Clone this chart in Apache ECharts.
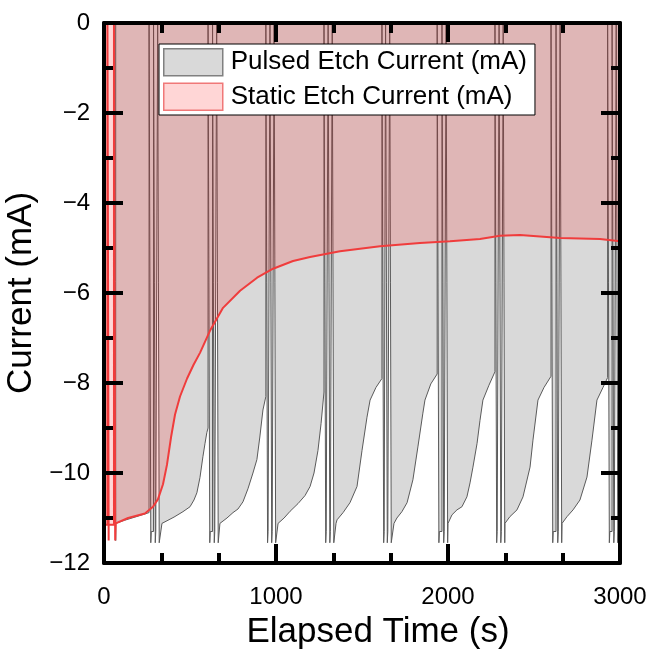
<!DOCTYPE html>
<html><head><meta charset="utf-8">
<script src="https://cdn.jsdelivr.net/npm/echarts@6/dist/echarts.min.js"></script>
<style>html,body{margin:0;padding:0;background:#fff}#c{width:654px;height:649px}</style>
</head><body><div id="c"></div>
<script>
// ---- axis settings ----
const xRange = [0, 3000];
const yRange = [-12, 0];

// ---- Static etch current (mA) vs elapsed time (s) ----
const staticTime = [0, 20, 20, 20, 27, 27, 27, 58, 58, 58, 65, 65, 68, 140, 238, 285, 314, 343, 366, 390, 413, 442, 483, 520, 558, 616, 692, 791, 890, 983, 1099, 1198, 1372, 1605, 1837, 2012, 2186, 2302, 2419, 2651, 2884, 3000];
const staticCurrent = [-11.15, -11.15, -11.15, 0, 0, -11.5, -11.15, -11.15, -11.15, 0, 0, -11.5, -11.12, -11.0, -10.9, -10.75, -10.58, -10.25, -9.82, -9.2, -8.7, -8.3, -7.9, -7.6, -7.33, -6.84, -6.33, -5.95, -5.66, -5.46, -5.29, -5.2, -5.07, -4.96, -4.89, -4.85, -4.8, -4.73, -4.71, -4.78, -4.8, -4.85];

// ---- Pulsed etch current: etch segments [time s, current mA] ----
const seg0 = [[68,-11.12],[120,-11.05],[180,-10.98],[230,-10.92],[262,-10.88]];
const seg1 = [[337,-11.12],[372,-11.05],[407,-10.98],[459,-10.86],[500,-10.75],[523,-10.6],[540,-10.44],[558,-10.1],[575,-9.64],[587,-9.35],[598,-9.1],[605,-9.0]];
const seg2 = [[674,-11.12],[715,-11.0],[750,-10.88],[779,-10.8],[808,-10.64],[837,-10.35],[866,-10.0],[889,-9.7],[906,-9.2],[924,-8.6],[941,-8.3]];
const seg3 = [[1012,-11.12],[1047,-11.0],[1082,-10.85],[1128,-10.68],[1169,-10.5],[1198,-10.3],[1221,-10.0],[1244,-9.5],[1262,-8.9],[1279,-8.2]];
const seg4 = [[1349,-11.12],[1355,-11.04],[1390,-10.88],[1430,-10.66],[1471,-10.3],[1500,-9.5],[1529,-8.76],[1547,-8.38],[1581,-8.1],[1616,-7.9]];
const seg5 = [[1686,-11.12],[1703,-11.0],[1732,-10.86],[1762,-10.66],[1796,-10.15],[1825,-9.42],[1854,-8.67],[1866,-8.38],[1900,-8.02],[1937,-7.8]];
const seg6 = [[2000,-11.12],[2023,-10.93],[2052,-10.82],[2081,-10.75],[2110,-10.53],[2128,-10.22],[2145,-9.87],[2169,-9.34],[2186,-8.83],[2203,-8.38],[2238,-8.05],[2273,-7.75]];
const seg7 = [[2331,-11.12],[2360,-10.97],[2401,-10.82],[2436,-10.53],[2477,-9.87],[2494,-9.27],[2523,-8.38],[2558,-8.1],[2599,-7.85]];
const seg8 = [[2663,-11.12],[2692,-10.97],[2727,-10.82],[2767,-10.6],[2808,-10.09],[2837,-9.27],[2866,-8.38],[2901,-8.1],[2928,-7.88]];
const seg9 = [[2992,-11.12],[3000,-11.08]];
const segments = [seg0, seg1, seg2, seg3, seg4, seg5, seg6, seg7, seg8, seg9];
// centre time of each off-window (zero-current pulses between etch segments)
const pulseCenters = [308, 651, 985, 1323, 1657, 1985, 2317, 2648, 2974];
const spikeLow = -11.55;
const restLevel = -11.3;
const startData = [[0,0],[68,0],[68,-11.5]];

// ---- build series data ----
const staticData = staticTime.map((t, i) => [t, staticCurrent[i]]);
const pulsedData = startData.slice();
for (let k = 0; k < segments.length; k++) {
  const seg = segments[k];
  seg.forEach(p => pulsedData.push(p));
  if (k < pulseCenters.length) {
    const c = pulseCenters[k];
    const E = seg[seg.length - 1][0];
    pulsedData.push([E, 0], [E + 10, 0], [E + 10, spikeLow], [E + 13, restLevel]);
    pulsedData.push([c - 20, restLevel], [c - 20, 0], [c - 10, 0], [c - 10, spikeLow], [c - 7, restLevel]);
    pulsedData.push([c + 4, restLevel], [c + 4, 0], [c + 13, 0], [c + 13, spikeLow]);
  }
}

const FONT = "'Liberation Sans', Arial, sans-serif";
const tickStyle = { color: '#000', width: 4 };
function xAx(pos, showLabel) {
  return {
    type: 'value', position: pos, min: xRange[0], max: xRange[1], interval: 1000, z: 10,
    axisLine: { show: true, onZero: false, lineStyle: { color: '#000', width: 4 } },
    axisTick: { show: true, inside: true, length: 19, lineStyle: tickStyle },
    minorTick: { show: true, splitNumber: 3, length: 10, lineStyle: tickStyle },
    splitLine: { show: false }, minorSplitLine: { show: false },
    axisLabel: { show: showLabel, color: '#000', fontSize: 24, fontFamily: FONT, margin: 22,
      formatter: v => String(v) },
    name: showLabel ? 'Elapsed Time (s)' : '', nameLocation: 'middle', nameGap: 52,
    nameTextStyle: { color: '#000', fontSize: 35, fontFamily: FONT, padding: [0, 0, 0, 32] }
  };
}
function yAx(pos, showLabel) {
  return {
    type: 'value', position: pos, min: yRange[0], max: yRange[1], interval: 2, z: 10,
    axisLine: { show: true, onZero: false, lineStyle: { color: '#000', width: 4 } },
    axisTick: { show: true, inside: true, length: 19, lineStyle: tickStyle },
    minorTick: { show: true, splitNumber: 2, length: 9, lineStyle: tickStyle },
    splitLine: { show: false }, minorSplitLine: { show: false },
    axisLabel: { show: showLabel, color: '#000', fontSize: 24, fontFamily: FONT, margin: 14,
      formatter: v => String(v).replace('-', '\u2212') },
    name: showLabel ? 'Current (mA)' : '', nameLocation: 'middle', nameGap: 54,
    nameTextStyle: { color: '#000', fontSize: 35, fontFamily: FONT }
  };
}

const chart = echarts.init(document.getElementById('c'), null, { renderer: 'canvas' });
chart.setOption({
  animation: false,
  backgroundColor: '#fff',
  grid: { left: 104, right: 34, top: 23, bottom: 86, containLabel: false, outerBoundsMode: 'none' },
  xAxis: [xAx('bottom', true), xAx('top', false)],
  yAxis: [yAx('left', true), yAx('right', false)],
  legend: {
    orient: 'vertical', left: 159, top: 44, z: 20,
    backgroundColor: '#fff', borderColor: '#000', borderWidth: 1,
    padding: [4, 8, 4, 4], itemWidth: 59, itemHeight: 27, itemGap: 6,
    textStyle: { color: '#000', fontSize: 26, lineHeight: 27, fontFamily: FONT, padding: [0, 0, 0, 3] },
    data: [
      { name: 'Pulsed Etch Current (mA)', icon: 'rect', itemStyle: { color: '#d9d9d9', borderColor: '#808080', borderWidth: 1.5 } },
      { name: 'Static Etch Current (mA)', icon: 'rect', itemStyle: { color: '#ffd6d6', borderColor: '#f07878', borderWidth: 1.5 } }
    ]
  },
  series: [
    {
      name: 'Pulsed Etch Current (mA)', type: 'line', data: pulsedData,
      xAxisIndex: 0, yAxisIndex: 0, showSymbol: false, symbol: 'none',
      lineStyle: { color: '#5a5a5a', width: 1 },
      itemStyle: { color: '#d9d9d9' },
      areaStyle: { color: '#d9d9d9', opacity: 1, origin: 'end' },
      z: 2
    },
    {
      name: 'Static Etch Current (mA)', type: 'line', data: staticData,
      xAxisIndex: 0, yAxisIndex: 0, showSymbol: false, symbol: 'none',
      lineStyle: { color: '#f03c3c', width: 2 },
      itemStyle: { color: '#ffd6d6' },
      areaStyle: { color: 'rgba(255,0,0,0.16)', opacity: 1, origin: 'end' },
      z: 3
    }
  ]
});
</script>
</body></html>
